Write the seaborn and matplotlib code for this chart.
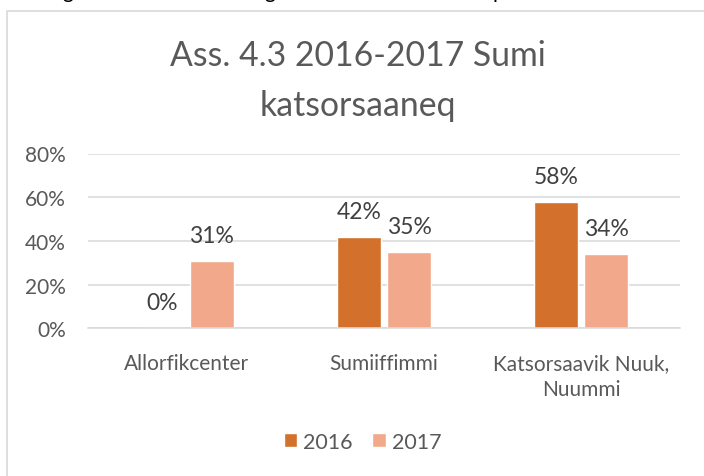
import matplotlib
matplotlib.use("Agg")
import matplotlib.pyplot as plt
import matplotlib.patches as mpatches
from matplotlib.ticker import PercentFormatter
import pandas as pd
import seaborn as sns

# data
categories = ["Allorfikcenter", "Sumiiffimmi", "Katsorsaavik Nuuk,\nNuummi"]
years = ["2016", "2017"]
vals_2016 = [0.00, 0.42, 0.58]
vals_2017 = [0.31, 0.35, 0.34]
title_lines = ["Ass. 4.3 2016-2017 Sumi", "katsorsaaneq"]
yticks = [0, 0.2, 0.4, 0.6, 0.8]

colors = ["#D2702C", "#F1A88B"]
grey_txt = "#595959"
grey_line = "#D9D9D9"

df = pd.DataFrame({
    "kategori": categories * 2,
    "aar": [years[0]] * 3 + [years[1]] * 3,
    "andel": vals_2016 + vals_2017,
})

sns.set_theme(style="white")
plt.rcParams["font.family"] = ["Lato", "DejaVu Sans"]

W, H = 704, 477
fig = plt.figure(figsize=(W / 100, H / 100), dpi=100)

# chart frame (only left and top edges visible in the crop)
frame = mpatches.Rectangle((7.3 / W, -0.2), 1.2, 1.2 - 11.7 / H,
                           transform=fig.transFigure, fill=False,
                           edgecolor=grey_line, lw=1.2, clip_on=False)
fig.patches.append(frame)

ax = fig.add_axes([88 / W, (H - 329.3) / H, 592 / W, 174.8 / H])
sns.barplot(data=df, x="kategori", y="andel", hue="aar", palette=colors,
            width=0.507, gap=0.12, ax=ax, saturation=1)

ax.set_ylim(0, 0.8)
ax.set_yticks(yticks)
ax.yaxis.set_major_formatter(PercentFormatter(1.0, decimals=0))
ax.set_xlabel("")
ax.set_ylabel("")
ax.grid(axis="y", color=grey_line, lw=1.1)
ax.set_axisbelow(True)
for s in ["top", "right", "left"]:
    ax.spines[s].set_visible(False)
ax.spines["bottom"].set_color(grey_line)
ax.spines["bottom"].set_linewidth(1.1)
ax.tick_params(axis="y", length=0, pad=16, labelsize=15, labelcolor=grey_txt)
ax.tick_params(axis="x", length=0, pad=18, labelsize=15, labelcolor=grey_txt)
for t in ax.get_xticklabels():
    t.set_linespacing(1.35)
    t.set_ha("center")

# data labels above the bars
for cont in ax.containers:
    for bar in cont:
        h = bar.get_height()
        ax.annotate(f"{h:.0%}", (bar.get_x() + bar.get_width() / 2, h),
                    xytext=(0, 13.7), textcoords="offset points",
                    ha="center", va="baseline", fontsize=16.5, color="#404040")

# legend at the bottom of the chart area
handles, labels = ax.get_legend_handles_labels()
ax.get_legend().remove()
fig.legend(handles, labels, loc="center", ncol=2,
           bbox_to_anchor=(362.7 / W, (H - 442.7) / H), frameon=False,
           fontsize=15.5, labelcolor=grey_txt, handlelength=0.62,
           handleheight=0.62, handletextpad=0.3, columnspacing=0.9)

# title, two lines
fig.text(358 / W, (H - 66) / H, title_lines[0], ha="center", va="baseline",
         fontsize=24.3, color=grey_txt)
fig.text(358 / W, (H - 116) / H, title_lines[1], ha="center", va="baseline",
         fontsize=24.3, color=grey_txt)

# descenders of the text line cut off above the chart
for x, ch in [(68, "g"), (270, "g"), (498, "p")]:
    fig.text(x / W, (H + 1.5) / H, ch, ha="center", va="baseline",
             fontsize=15, color="black")

fig.savefig("out.png", dpi=100)
